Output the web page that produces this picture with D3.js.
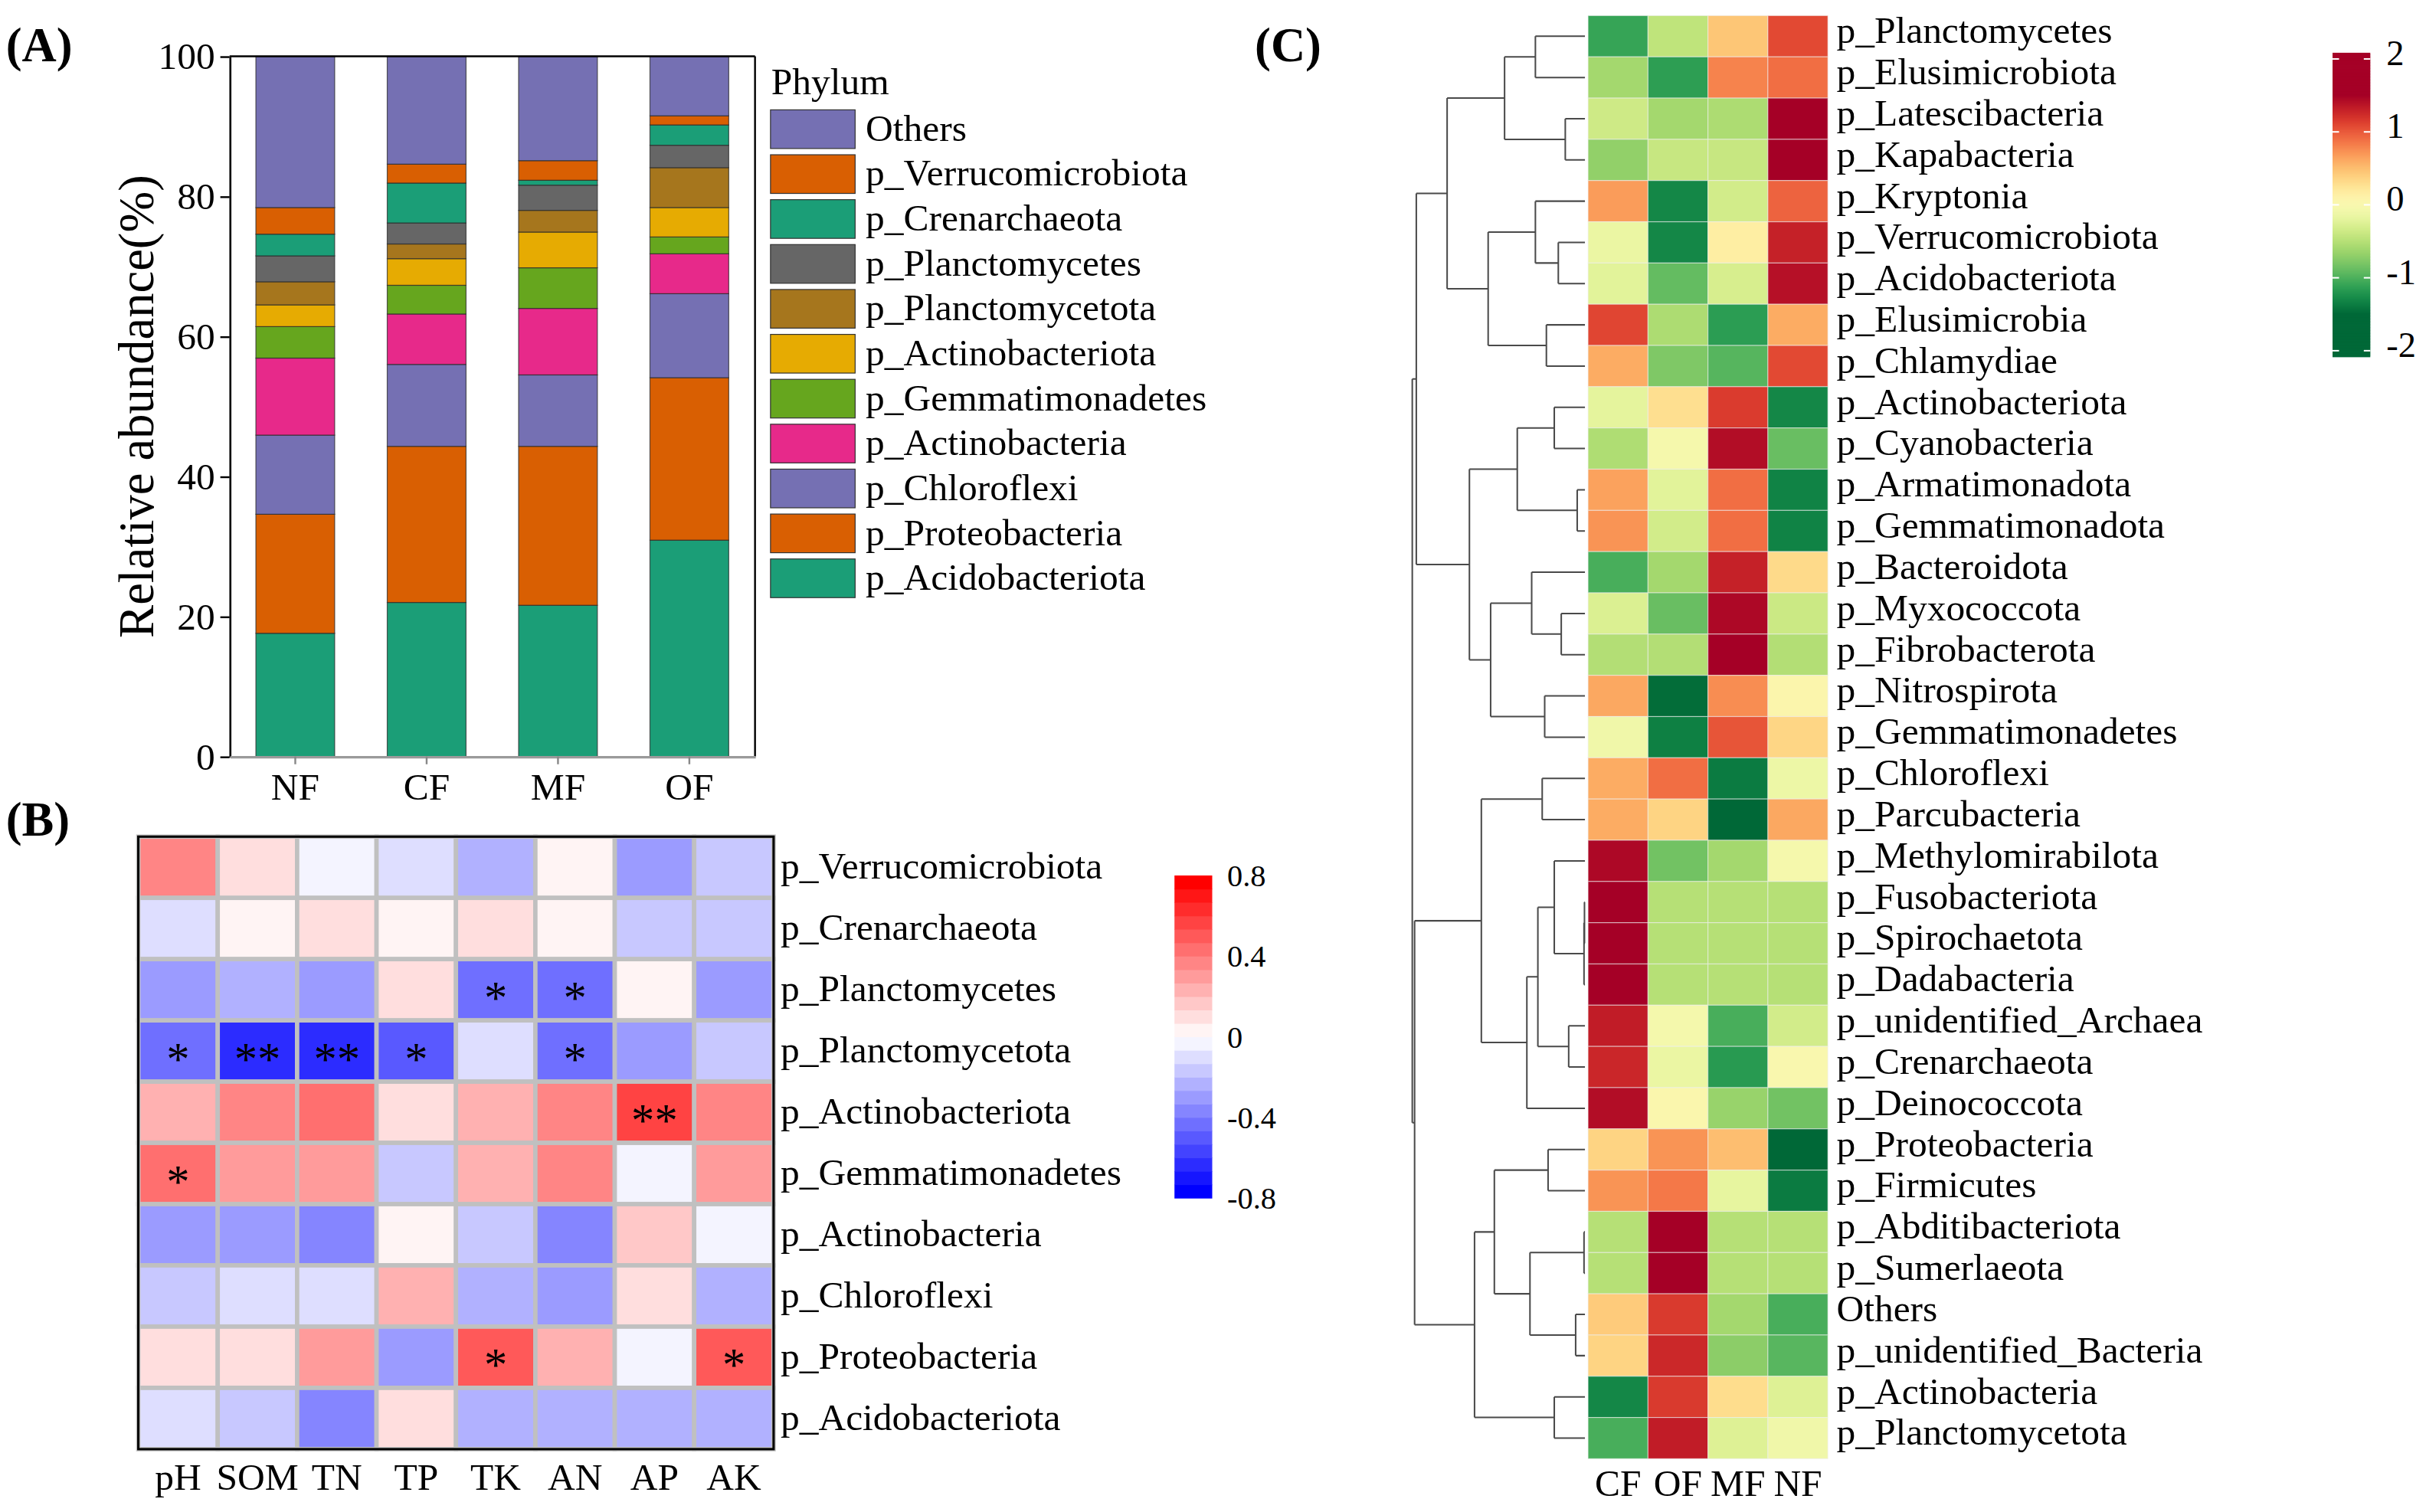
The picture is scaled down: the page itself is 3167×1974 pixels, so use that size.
<!DOCTYPE html>
<html>
<head>
<meta charset="utf-8">
<script src="https://cdn.jsdelivr.net/npm/d3@7"></script>
<style>
  body { margin: 0; background: #fff; }
  svg text { font-family: "Liberation Serif", "Times New Roman", serif; fill: #000; }
</style>
</head>
<body>
<svg id="chart"></svg>
<script>
// ---------------- DATA ----------------
// Panel A: relative abundance (%) — groups
const groupsA = ["NF", "CF", "MF", "OF"];
// stack order bottom -> top
const phylaA = ["p_Acidobacteriota", "p_Proteobacteria", "p_Chloroflexi", "p_Actinobacteria",
  "p_Gemmatimonadetes", "p_Actinobacteriota", "p_Planctomycetota", "p_Planctomycetes",
  "p_Crenarchaeota", "p_Verrucomicrobiota", "Others"];
const colorsA = ["#1B9E77", "#D95F02", "#7570B3", "#E7298A", "#66A61E", "#E6AB02",
  "#A6761D", "#666666", "#1B9E77", "#D95F02", "#7570B3"];
// rows follow phylaA, columns follow groupsA
const abundanceA = [
  [17.6, 22.0, 21.6, 30.9],
  [17.0, 22.3, 22.7, 23.2],
  [11.3, 11.7, 10.2, 12.0],
  [11.0, 7.2, 9.5, 5.7],
  [4.5, 4.1, 5.8, 2.4],
  [3.1, 3.8, 5.1, 4.2],
  [3.3, 2.1, 3.1, 5.7],
  [3.7, 3.0, 3.6, 3.2],
  [3.1, 5.7, 0.7, 2.9],
  [3.8, 2.7, 2.8, 1.3],
  [21.6, 15.4, 14.9, 8.5]
];
const yTicksA = [0, 20, 40, 60, 80, 100];

// Panel B: correlation heatmap
const envVars = ["pH", "SOM", "TN", "TP", "TK", "AN", "AP", "AK"];
const phylaB = ["p_Verrucomicrobiota", "p_Crenarchaeota", "p_Planctomycetes", "p_Planctomycetota",
  "p_Actinobacteriota", "p_Gemmatimonadetes", "p_Actinobacteria", "p_Chloroflexi",
  "p_Proteobacteria", "p_Acidobacteriota"];
const corrB = [
  [0.37, 0.10, -0.03, -0.10, -0.23, 0.03, -0.30, -0.17],
  [-0.10, 0.03, 0.10, 0.03, 0.10, 0.03, -0.17, -0.17],
  [-0.30, -0.23, -0.30, 0.10, -0.43, -0.43, 0.03, -0.30],
  [-0.43, -0.63, -0.63, -0.50, -0.10, -0.43, -0.30, -0.17],
  [0.23, 0.37, 0.43, 0.10, 0.23, 0.37, 0.57, 0.37],
  [0.43, 0.30, 0.30, -0.17, 0.23, 0.37, -0.03, 0.30],
  [-0.30, -0.30, -0.37, 0.03, -0.17, -0.37, 0.17, -0.03],
  [-0.17, -0.10, -0.10, 0.23, -0.23, -0.30, 0.10, -0.23],
  [0.10, 0.10, 0.30, -0.30, 0.50, 0.23, -0.03, 0.50],
  [-0.10, -0.17, -0.37, 0.10, -0.23, -0.23, -0.23, -0.23]
];
const signifB = [
  ["", "", "", "", "", "", "", ""],
  ["", "", "", "", "", "", "", ""],
  ["", "", "", "", "*", "*", "", ""],
  ["*", "**", "**", "*", "", "*", "", ""],
  ["", "", "", "", "", "", "**", ""],
  ["*", "", "", "", "", "", "", ""],
  ["", "", "", "", "", "", "", ""],
  ["", "", "", "", "", "", "", ""],
  ["", "", "", "", "*", "", "", "*"],
  ["", "", "", "", "", "", "", ""]
];
const legendTicksB = [0.8, 0.4, 0, -0.4, -0.8];

// Panel C: clustered heatmap (row z-scores)
const colsC = ["CF", "OF", "MF", "NF"];
const rowsC = ["p_Planctomycetes", "p_Elusimicrobiota", "p_Latescibacteria", "p_Kapabacteria",
  "p_Kryptonia", "p_Verrucomicrobiota", "p_Acidobacteriota", "p_Elusimicrobia", "p_Chlamydiae",
  "p_Actinobacteriota", "p_Cyanobacteria", "p_Armatimonadota", "p_Gemmatimonadota",
  "p_Bacteroidota", "p_Myxococcota", "p_Fibrobacterota", "p_Nitrospirota", "p_Gemmatimonadetes",
  "p_Chloroflexi", "p_Parcubacteria", "p_Methylomirabilota", "p_Fusobacteriota",
  "p_Spirochaetota", "p_Dadabacteria", "p_unidentified_Archaea", "p_Crenarchaeota",
  "p_Deinococcota", "p_Proteobacteria", "p_Firmicutes", "p_Abditibacteriota", "p_Sumerlaeota",
  "Others", "p_unidentified_Bacteria", "p_Actinobacteria", "p_Planctomycetota"];
const zC = [
  [-1.10, -0.45, 0.45, 1.08],
  [-0.60, -1.14, 0.80, 0.90],
  [-0.36, -0.60, -0.55, 1.50],
  [-0.69, -0.40, -0.40, 1.50],
  [0.68, -1.30, -0.33, 0.95],
  [-0.15, -1.30, 0.15, 1.30],
  [-0.22, -0.90, -0.30, 1.40],
  [1.10, -0.55, -1.15, 0.60],
  [0.60, -0.78, -0.96, 1.08],
  [-0.20, 0.28, 1.15, -1.30],
  [-0.54, -0.05, 1.42, -0.88],
  [0.65, -0.22, 0.90, -1.33],
  [0.72, -0.33, 0.90, -1.33],
  [-1.02, -0.60, 1.30, 0.32],
  [-0.27, -0.88, 1.45, -0.38],
  [-0.52, -0.52, 1.50, -0.52],
  [0.62, -1.47, 0.75, 0.06],
  [-0.10, -1.35, 1.02, 0.35],
  [0.60, 0.90, -1.38, -0.13],
  [0.60, 0.36, -1.50, 0.62],
  [1.45, -0.84, -0.60, -0.05],
  [1.50, -0.50, -0.50, -0.50],
  [1.50, -0.50, -0.50, -0.50],
  [1.50, -0.50, -0.50, -0.50],
  [1.33, -0.06, -1.02, -0.33],
  [1.27, -0.15, -1.17, 0.00],
  [1.42, 0.03, -0.66, -0.84],
  [0.36, 0.72, 0.50, -1.50],
  [0.72, 0.85, -0.18, -1.38],
  [-0.50, 1.50, -0.50, -0.50],
  [-0.50, 1.50, -0.50, -0.50],
  [0.42, 1.16, -0.60, -1.02],
  [0.36, 1.26, -0.72, -0.95],
  [-1.30, 1.16, 0.30, -0.25],
  [-1.02, 1.33, -0.25, -0.10]
];
// row dendrogram: [left, right, mergeHeight], leaves = row index
const treeC = [
  [
    [[[0, 1, 3.2], [2, 3, 1.27], 5.19], [[4, [5, 6, 1.72], 3.2], [7, 8, 2.49], 6.25], 8.9],
    [[[9, 10, 1.98], [11, 12, 0.5], 4.37], [[13, [14, 15, 1.53], 3.44], [16, 17, 2.6], 6.09], 7.46],
    10.89
  ],
  [
    [[18, 19, 2.76], [[[20, [[21, 22, 0.03], 23, 0.06], 1.98], [24, 25, 1.05], 3.04], 26, 3.75], 6.69],
    [[[27, 28, 2.38], [[29, 30, 0.06], [31, 32, 0.6], 3.55], 5.85], [33, 34, 1.98], 7.13],
    11.0
  ],
  11.15
];
const legendTicksC = [2, 1, 0, -1, -2];

// ---------------- SETUP ----------------
const VW = 1568, VH = 1974 * 1568 / 3167;
const svg = d3.select("#chart").attr("width", 3167).attr("height", 1974)
  .attr("viewBox", `0 0 ${VW} ${VH}`);
svg.append("rect").attr("width", VW).attr("height", VH).attr("fill", "#fff");
const FS = 24.5;

// panel labels
[["(A)", 3.8, 39.5], ["(B)", 3.8, 540], ["(C)", 811, 39.5]].forEach(([t, x, y]) => {
  svg.append("text").attr("x", x).attr("y", y).attr("font-size", 31)
    .attr("font-weight", "bold").text(t);
});

// ---------------- PANEL A ----------------
const gA = svg.append("g");
const xA = d3.scaleBand().domain(groupsA).range([148.4, 488]).paddingInner(0.4).paddingOuter(0.2);
const yA = d3.scaleLinear().domain([0, 100]).range([489, 36.4]);
const rowsA = groupsA.map((g, j) => {
  const o = { group: g };
  phylaA.forEach((p, i) => o[p] = abundanceA[i][j]);
  return o;
});
const stackA = d3.stack().keys(phylaA)(rowsA);
const colorA = d3.scaleOrdinal().domain(phylaA).range(colorsA);
gA.selectAll("g.layer").data(stackA).join("g").attr("class", "layer")
  .attr("fill", d => colorA(d.key))
  .selectAll("rect").data(d => d).join("rect")
  .attr("x", d => xA(d.data.group))
  .attr("width", xA.bandwidth())
  .attr("y", d => yA(d[1]))
  .attr("height", d => yA(d[0]) - yA(d[1]))
  .attr("stroke", "#2a2a2a").attr("stroke-width", 0.6).attr("stroke-opacity", 0.75);

// frame
gA.append("line").attr("x1", 148.4).attr("x2", 488).attr("y1", 36.4).attr("y2", 36.4)
  .attr("stroke", "#000").attr("stroke-width", 1.2);
gA.append("line").attr("x1", 488).attr("x2", 488).attr("y1", 36.4).attr("y2", 489)
  .attr("stroke", "#000").attr("stroke-width", 1.2);

const axLeft = gA.append("g").attr("transform", "translate(148.4,0)")
  .call(d3.axisLeft(yA).tickValues(yTicksA).tickSize(6).tickSizeOuter(0).tickPadding(3.4));
axLeft.select(".domain").attr("stroke", "#000").attr("stroke-width", 1.3);
axLeft.selectAll(".tick line").attr("stroke", "#000").attr("stroke-width", 1.2);
axLeft.selectAll("text").attr("font-size", FS).attr("font-family", null);

const axBottom = gA.append("g").attr("transform", "translate(0,489)")
  .call(d3.axisBottom(xA).tickSize(5).tickSizeOuter(0).tickPadding(5.5));
axBottom.select(".domain").attr("stroke", "#9a9a9a").attr("stroke-width", 1.6);
axBottom.selectAll(".tick line").attr("stroke", "#888").attr("stroke-width", 1.2);
axBottom.selectAll("text").attr("font-size", FS).attr("font-family", null);

gA.append("text").attr("transform", "translate(99,262.7) rotate(-90)")
  .attr("text-anchor", "middle").attr("font-size", 32).text("Relative abundance(%)");

// legend
const legendA = phylaA.slice().reverse();
const legY = d3.scaleBand().domain(legendA).range([71, 71 + 29.03 * legendA.length]);
gA.append("text").attr("x", 498.5).attr("y", 61).attr("font-size", FS).text("Phylum");
const li = gA.selectAll("g.leg").data(legendA).join("g").attr("class", "leg");
li.append("rect").attr("x", 498).attr("y", d => legY(d)).attr("width", 54.7).attr("height", 25)
  .attr("fill", d => colorA(d)).attr("stroke", "#333").attr("stroke-width", 0.6);
li.append("text").attr("x", 559.5).attr("y", d => legY(d) + 20).attr("font-size", FS).text(d => d);

// ---------------- PANEL B ----------------
const gB = svg.append("g");
const xB = d3.scaleBand().domain(envVars).range([89.4, 500]);
const yB = d3.scaleBand().domain(phylaB).range([540.8, 936.7]);
const colorsB24 = d3.range(24).map(i => {
  const t = i / 23;
  return t < 0.5 ? d3.interpolateRgb("#0000FF", "#FFFFFF")(t / 0.5)
                 : d3.interpolateRgb("#FFFFFF", "#FF0000")((t - 0.5) / 0.5);
});
const colorB = d3.scaleQuantize().domain([-0.8, 0.8]).range(colorsB24);
const cellsB = [];
phylaB.forEach((p, i) => envVars.forEach((e, j) => cellsB.push({ p, e, v: corrB[i][j], s: signifB[i][j] })));
gB.selectAll("rect.cell").data(cellsB).join("rect").attr("class", "cell")
  .attr("x", d => xB(d.e)).attr("y", d => yB(d.p))
  .attr("width", xB.bandwidth()).attr("height", yB.bandwidth())
  .attr("fill", d => colorB(d.v)).attr("stroke", "#c0c0c0").attr("stroke-width", 2.8);
gB.append("rect").attr("x", 89.4).attr("y", 540.8).attr("width", 500 - 89.4).attr("height", 936.7 - 540.8)
  .attr("fill", "none").attr("stroke", "#000").attr("stroke-width", 1.5);
const starFS = 30;
gB.selectAll("text.star").data(cellsB.filter(d => d.s)).join("text").attr("class", "star")
  .attr("x", d => xB(d.e) + xB.bandwidth() / 2)
  .attr("y", d => yB(d.p) + yB.bandwidth() / 2 + 0.47 * starFS + 1)
  .attr("text-anchor", "middle").attr("font-size", starFS).text(d => d.s);
gB.selectAll("text.rlab").data(phylaB).join("text").attr("class", "rlab")
  .attr("x", 504.5).attr("y", d => yB(d) + yB.bandwidth() / 2 + 7.5)
  .attr("font-size", FS).text(d => d);
gB.selectAll("text.clab").data(envVars).join("text").attr("class", "clab")
  .attr("x", d => xB(d) + xB.bandwidth() / 2).attr("y", 963)
  .attr("text-anchor", "middle").attr("font-size", FS).text(d => d);
// colorbar B
const yCbB = d3.scaleLinear().domain([-0.8, 0.8]).range([774.4, 565.9]);
const stepB = 1.6 / 24;
gB.selectAll("rect.cb").data(d3.range(24)).join("rect").attr("class", "cb")
  .attr("x", 759.1).attr("width", 24.4)
  .attr("y", i => yCbB(-0.8 + (i + 1) * stepB))
  .attr("height", i => yCbB(-0.8 + i * stepB) - yCbB(-0.8 + (i + 1) * stepB) + 0.3)
  .attr("fill", i => colorsB24[i]);
gB.selectAll("text.cbl").data(legendTicksB).join("text").attr("class", "cbl")
  .attr("x", 793.2).attr("y", d => yCbB(d) + 7).attr("font-size", 20).text(d => d === 0 ? "0" : d.toString());

// ---------------- PANEL C ----------------
const gC = svg.append("g");
const xC = d3.scaleBand().domain(colsC).range([1026.4, 1181.4]);
const yC = d3.scaleBand().domain(rowsC).range([10.1, 942.9]);
const colorC = d3.scaleSequential(t => d3.interpolateRdYlGn(1 - t)).domain([-1.5, 1.5]).clamp(true);
const cellsC = [];
rowsC.forEach((r, i) => colsC.forEach((c, j) => cellsC.push({ r, c, v: zC[i][j] })));
gC.selectAll("rect.cell").data(cellsC).join("rect").attr("class", "cell")
  .attr("x", d => xC(d.c)).attr("y", d => yC(d.r))
  .attr("width", xC.bandwidth()).attr("height", yC.bandwidth())
  .attr("fill", d => colorC(d.v)).attr("stroke", "#eeeeee").attr("stroke-width", 0.6).attr("stroke-opacity", 0.55);
gC.selectAll("text.rlab").data(rowsC).join("text").attr("class", "rlab")
  .attr("x", 1187).attr("y", d => yC(d) + yC.bandwidth() / 2 + 4.4)
  .attr("font-size", FS).text(d => d);
gC.selectAll("text.clab").data(colsC).join("text").attr("class", "clab")
  .attr("x", d => xC(d) + xC.bandwidth() / 2).attr("y", 967)
  .attr("text-anchor", "middle").attr("font-size", FS).text(d => d);

// dendrogram
function build(n) {
  if (typeof n === "number") return { leaf: n, h: 0 };
  return { h: n[2], children: [build(n[0]), build(n[1])] };
}
const rootC = d3.hierarchy(build(treeC));
const xD = d3.scaleLinear().domain([0, 11.15]).range([1024.4, 912.8]);
rootC.eachAfter(d => {
  d.px = xD(d.data.h);
  d.py = d.children ? (d.children[0].py + d.children[1].py) / 2
                    : yC(rowsC[d.data.leaf]) + yC.bandwidth() / 2;
});
const dPath = d3.path();
rootC.each(d => {
  if (!d.children) return;
  dPath.moveTo(d.px, d.children[0].py); dPath.lineTo(d.px, d.children[1].py);
  d.children.forEach(c => { dPath.moveTo(d.px, c.py); dPath.lineTo(c.px, c.py); });
});
gC.append("path").attr("d", dPath.toString()).attr("fill", "none")
  .attr("stroke", "#4a4a4a").attr("stroke-width", 1);

// colorbar C
const yCbC = d3.scaleLinear().domain([-2, 2]).range([226.7, 38.1]);
const cbTop = 34.1, cbBot = 230.5, nSl = 196;
const sl = d3.range(nSl);
gC.selectAll("rect.cb").data(sl).join("rect").attr("class", "cb")
  .attr("x", 1507.6).attr("width", 24.4)
  .attr("y", k => cbTop + (cbBot - cbTop) * k / nSl)
  .attr("height", (cbBot - cbTop) / nSl + 0.4)
  .attr("fill", k => colorC(yCbC.invert(cbTop + (cbBot - cbTop) * (k + 0.5) / nSl)));
gC.selectAll("g.cbt").data(legendTicksC).join("g").attr("class", "cbt").each(function (v) {
  const g = d3.select(this), y = yCbC(v);
  g.append("line").attr("x1", 1507.6).attr("x2", 1511.8).attr("y1", y).attr("y2", y)
    .attr("stroke", "#fff").attr("stroke-width", 1);
  g.append("line").attr("x1", 1527.8).attr("x2", 1532).attr("y1", y).attr("y2", y)
    .attr("stroke", "#fff").attr("stroke-width", 1);
  g.append("text").attr("x", 1542.4).attr("y", y + 4).attr("font-size", 23).text(v.toString());
});
</script>
</body>
</html>
